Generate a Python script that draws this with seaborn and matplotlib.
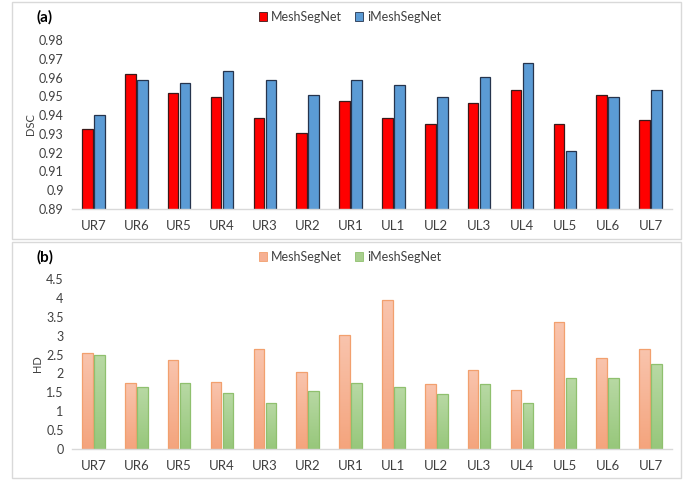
import numpy as np
import pandas as pd
import matplotlib
matplotlib.use("Agg")
import matplotlib.pyplot as plt
import seaborn as sns
from matplotlib.patches import Rectangle, Patch
from matplotlib.colors import LinearSegmentedColormap

categories = ["UR7", "UR6", "UR5", "UR4", "UR3", "UR2", "UR1",
              "UL1", "UL2", "UL3", "UL4", "UL5", "UL6", "UL7"]
methods = ["MeshSegNet", "iMeshSegNet"]

dsc_meshsegnet = [0.9325, 0.9621, 0.9520, 0.9495, 0.9387, 0.9305, 0.9477,
                  0.9385, 0.9355, 0.9465, 0.9534, 0.9353, 0.9506, 0.9376]
dsc_imeshsegnet = [0.9400, 0.9587, 0.9571, 0.9637, 0.9586, 0.9506, 0.9586,
                   0.9561, 0.9495, 0.9605, 0.9676, 0.9207, 0.9495, 0.9534]

hd_meshsegnet = [2.54, 1.74, 2.36, 1.77, 2.64, 2.03, 3.01,
                 3.95, 1.72, 2.09, 1.57, 3.36, 2.40, 2.64]
hd_imeshsegnet = [2.48, 1.64, 1.74, 1.48, 1.22, 1.54, 1.74,
                  1.63, 1.45, 1.72, 1.21, 1.87, 1.89, 2.25]

dsc_ticks = [0.89, 0.90, 0.91, 0.92, 0.93, 0.94, 0.95, 0.96, 0.97, 0.98]
dsc_ticklabels = ["0.89", "0.9", "0.91", "0.92", "0.93", "0.94", "0.95", "0.96", "0.97", "0.98"]
hd_ticks = [0, 0.5, 1, 1.5, 2, 2.5, 3, 3.5, 4, 4.5]
hd_ticklabels = ["0", "0.5", "1", "1.5", "2", "2.5", "3", "3.5", "4", "4.5"]

sns.set_style("white")
plt.rcParams["font.family"] = ["Lato", "DejaVu Sans"]

fig = plt.figure(figsize=(6.96, 4.8), dpi=100)

# panel borders
for y0, y1 in [(2, 239), (242, 478)]:
    fig.add_artist(Rectangle((12 / 696, 1 - y1 / 480), (681 - 12) / 696, (y1 - y0) / 480,
                             transform=fig.transFigure, fill=False,
                             edgecolor="#d9d9d9", linewidth=1.0))

def long_df(a, b):
    return pd.DataFrame({
        "cat": categories * 2,
        "method": [methods[0]] * len(categories) + [methods[1]] * len(categories),
        "val": list(a) + list(b),
    })

text_color = "#404040"

def style_axes(ax, ticks, ticklabels, ylim, ylabel):
    ax.set_ylim(*ylim)
    ax.set_yticks(ticks)
    ax.set_yticklabels(ticklabels, fontsize=9, color=text_color)
    ax.tick_params(axis="x", labelsize=9.5, colors=text_color, length=0, pad=8)
    ax.tick_params(axis="y", length=0, pad=6)
    ax.set_xlabel("")
    ax.set_ylabel(ylabel, fontsize=8, color=text_color, labelpad=2)
    for s in ["top", "right", "left"]:
        ax.spines[s].set_visible(False)
    ax.spines["bottom"].set_color("#d9d9d9")
    ax.spines["bottom"].set_linewidth(1.0)
    ax.set_xlim(-0.5, len(categories) - 0.5)
    leg = ax.get_legend()
    if leg is not None:
        leg.remove()

leg_kw = dict(loc="center", ncol=2, frameon=False, fontsize=9,
              handlelength=0.65, handleheight=0.65, handletextpad=0.32,
              columnspacing=1.05, labelcolor=text_color)

# ---------- panel (a) ----------
ax1 = fig.add_axes([72 / 696, 1 - 209 / 480, 600 / 696, 169 / 480])
pal_a = {"MeshSegNet": "#ff0000", "iMeshSegNet": "#5b9bd5"}
sns.barplot(data=long_df(dsc_meshsegnet, dsc_imeshsegnet), x="cat", y="val",
            hue="method", palette=pal_a, width=0.56, gap=0.12, ax=ax1,
            order=categories, hue_order=methods, saturation=1, legend=False)
style_axes(ax1, dsc_ticks, dsc_ticklabels, (0.89, 0.98), "DSC")
edge_a = {"#ff0000": "#3a1a1a", "#5b9bd5": "#26344d"}
for p in ax1.patches:
    fc = matplotlib.colors.to_hex(p.get_facecolor())
    p.set_edgecolor(edge_a.get(fc, "#333333"))
    p.set_linewidth(0.9)

h_a = [Patch(facecolor="#ff0000", edgecolor="#3a1a1a", linewidth=0.6),
       Patch(facecolor="#5b9bd5", edgecolor="#26344d", linewidth=0.6)]
fig.legend(h_a, methods, bbox_to_anchor=(350 / 696, 1 - 17 / 480), **leg_kw)
fig.text(45 / 696, 1 - 17 / 480, "(a)", fontsize=11, fontweight="bold",
         ha="center", va="center", color="#000000")

# ---------- panel (b) ----------
ax2 = fig.add_axes([72 / 696, 1 - 449 / 480, 600 / 696, 170 / 480])
pal_b = {"MeshSegNet": "#f6b093", "iMeshSegNet": "#a8cf8e"}
sns.barplot(data=long_df(hd_meshsegnet, hd_imeshsegnet), x="cat", y="val",
            hue="method", palette=pal_b, width=0.56, gap=0.12, ax=ax2,
            order=categories, hue_order=methods, saturation=1, legend=False)
style_axes(ax2, hd_ticks, hd_ticklabels, (0, 4.5), "HD")

grad = {
    "#f6b093": (["#f9c4ad", "#f4a47d"], "#f2a06e"),
    "#a8cf8e": (["#b8d9a4", "#97c77b"], "#8fc06e"),
}
gradient = np.linspace(1, 0, 100).reshape(-1, 1)
for p in list(ax2.patches):
    fc = matplotlib.colors.to_hex(p.get_facecolor())
    if fc not in grad:
        continue
    cols, ec = grad[fc]
    x0, y0 = p.get_x(), p.get_y()
    w, h = p.get_width(), p.get_height()
    img = ax2.imshow(gradient, extent=[x0, x0 + w, y0, y0 + h], origin="upper",
                     cmap=LinearSegmentedColormap.from_list("g", [cols[1], cols[0]]),
                     aspect="auto", zorder=p.get_zorder())
    img.set_clip_path(p)
    p.set_facecolor("none")
    p.set_edgecolor(ec)
    p.set_linewidth(0.9)
    p.set_zorder(p.get_zorder() + 0.1)
ax2.set_xlim(-0.5, len(categories) - 0.5)
ax2.set_ylim(0, 4.5)

h_b = [Patch(facecolor="#f6b093", edgecolor="#f2a06e", linewidth=0.6),
       Patch(facecolor="#a8cf8e", edgecolor="#8fc06e", linewidth=0.6)]
fig.legend(h_b, methods, bbox_to_anchor=(350 / 696, 1 - 257 / 480), **leg_kw)
fig.text(45 / 696, 1 - 257 / 480, "(b)", fontsize=11, fontweight="bold",
         ha="center", va="center", color="#000000")

fig.savefig("out.png", dpi=100)
